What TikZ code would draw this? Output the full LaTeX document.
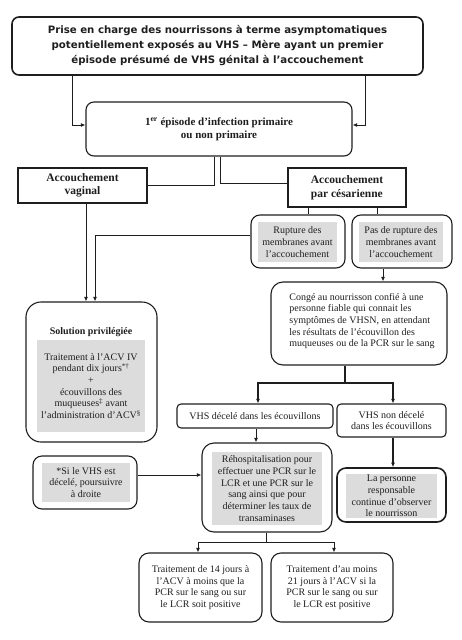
\documentclass[tikz,border=0pt]{standalone}
\usepackage{fontspec}
\setmainfont{Liberation Serif}
\newfontfamily\titlefont{DejaVu Sans}
\usetikzlibrary{arrows.meta,calc}
\definecolor{lg}{HTML}{DCDCDC}
\definecolor{ink}{HTML}{1E1E1E}
\tikzset{
  box/.style={draw=ink, line width=1.1pt, rounded corners=#1, inner sep=0pt},
  box/.default=9pt,
  greybox/.style={fill=lg, inner sep=0pt, align=center, font=\fontsize{10}{11.7}\selectfont},
  plain/.style={inner sep=0pt, align=center, font=\fontsize{10}{11.7}\selectfont},
  conn/.style={draw=ink, line width=0.9pt},
  arr/.style={conn, -{Latex[length=4.5pt,width=4pt]}},
}
\begin{document}
\begin{tikzpicture}[x=1pt,y=-1pt, text=ink]
\useasboundingbox (0,0) rectangle (461,640);
% boxes
\node[box=7pt, line width=1.6pt, minimum width=411pt, minimum height=58pt,
      align=center, font=\titlefont\bfseries\fontsize{10.2}{15}\selectfont] (top) at (217.5,46)
  {Prise en charge des nourrissons à terme asymptomatiques\\potentiellement exposés au VHS – Mère ayant un premier\\épisode présumé de VHS génital à l’accouchement};
\node[box=8pt, minimum width=266pt, minimum height=54pt, align=center,
      font=\bfseries\fontsize{11}{13}\selectfont] (ep) at (219,129)
  {1\textsuperscript{er} épisode d’infection primaire\\ou non primaire};
\node[box=0pt, minimum width=129pt, minimum height=35pt, align=center,
      font=\bfseries\fontsize{11.5}{13.5}\selectfont] (vag) at (82.5,185.5)
  {Accouchement\\vaginal};
\node[box=0pt, line width=1.6pt, minimum width=118pt, minimum height=39pt, align=left,
      font=\bfseries\fontsize{11.5}{14}\selectfont] (ces) at (347,187.5)
  {Accouchement\\par césarienne};
% rupture
\node[box=9pt, minimum width=94pt, minimum height=53pt] (rup) at (298,241.5) {};
\node[greybox, minimum width=79pt, minimum height=40pt] (rupt) at (297.5,242)
  {Rupture des\\membranes avant\\l’accouchement};
\node[box=9pt, minimum width=100pt, minimum height=53pt] (pas) at (402,241.5) {};
\node[greybox, minimum width=84pt, minimum height=40pt] (past) at (401,242)
  {Pas de rupture des\\membranes avant\\l’accouchement};
% conge
\node[box=12pt, minimum width=176pt, minimum height=83pt] (conge) at (359,323.5) {};
\node[plain, align=left] (conget) at (362,321)
  {Congé au nourrisson confié à une\\personne fiable qui connait les\\symptômes de VHSN, en attendant\\les résultats de l’écouvillon des\\muqueuses ou de la PCR sur le sang};
% solution
\node[box=15pt, minimum width=131pt, minimum height=140pt] (sol) at (91.5,372) {};
\node[plain, font=\bfseries\fontsize{10}{12}\selectfont] (solt) at (91,332) {Solution privilégiée};
\node[greybox, minimum width=108pt, minimum height=92pt] (solg) at (91,386)
  {Traitement à l’ACV IV\\pendant dix jours\textsuperscript{*†}\\+\\écouvillons des\\muqueuses\textsuperscript{‡} avant\\l’administration d’ACV\textsuperscript{§}};
% VHS results
\node[box=4pt, minimum width=156pt, minimum height=24pt, plain] (dec) at (255,416)
  {VHS décelé dans les écouvillons};
\node[box=4pt, minimum width=109pt, minimum height=33pt, plain] (nondec) at (391.5,420.5)
  {VHS non décelé\\dans les écouvillons};
% rehosp
\node[box=12pt, minimum width=130pt, minimum height=89pt] (reh) at (267,487.5) {};
\node[greybox, minimum width=110pt, minimum height=73pt] (reht) at (267,488.5)
  {Réhospitalisation pour\\effectuer une PCR sur le\\LCR et une PCR sur le\\sang ainsi que pour\\déterminer les taux de\\transaminases};
% si
\node[box=9pt, minimum width=104pt, minimum height=53pt] (si) at (85,482.5) {};
\node[greybox, minimum width=88pt, minimum height=39pt] (sit) at (86,482.5)
  {*Si le VHS est\\décelé, poursuivre\\à droite};
% personne
\node[box=9pt, line width=1.6pt, minimum width=109pt, minimum height=54pt] (pers) at (391.5,495) {};
\node[greybox, minimum width=91pt, minimum height=44pt] (perst) at (391.5,496)
  {La personne\\responsable\\continue d’observer\\le nourrisson};
% treatments
\node[box=10pt, minimum width=123pt, minimum height=69pt, plain] (t14) at (200.5,587.5)
  {Traitement de 14 jours à\\l’ACV à moins que la\\PCR sur le sang ou sur\\le LCR soit positive};
\node[box=10pt, minimum width=122pt, minimum height=69pt, plain] (t21) at (332,587.5)
  {Traitement d’au moins\\21 jours à l’ACV si la\\PCR sur le sang ou sur\\le LCR est positive};
% connectors
\coordinate (xl) at (72,0);
\coordinate (xr) at (365,0);
\draw[arr] (top.south -| xl) |- ([yshift=4pt]ep.west);
\draw[arr] (top.south -| xr) |- ([yshift=4pt]ep.east);
\coordinate (xa) at (214,0);
\coordinate (xb) at (220,0);
\draw[conn] (ep.south -| xa) |- (vag.east);
\draw[conn] (ep.south -| xb) |- ([yshift=4.5pt]ces.west);
\coordinate (xc) at (308,0);
\coordinate (xd) at (377,0);
\draw[conn] (ces.south -| xc) -- (rup.north -| xc);
\draw[conn] (ces.south -| xd) -- (pas.north -| xd);
\coordinate (xe) at (95,0);
\coordinate (xf) at (86,0);
\draw[arr] ([yshift=6.5pt]rup.west) -| (sol.north -| xe);
\draw[arr] (vag.south -| xf) -- (sol.north -| xf);
\coordinate (xg) at (383,0);
\draw[arr] (pas.south -| xg) -- (conge.north -| xg);
\coordinate (j1) at (345,383);
\draw[conn, line width=1.3pt] (conge.south -| j1) -- (j1);
\draw[arr, line width=1.3pt] (j1) -| ([xshift=3pt]dec.north);
\draw[arr, line width=1.3pt] (j1) -| ([xshift=1.5pt]nondec.north);
\coordinate (xh) at (256,0);
\draw[arr] (dec.south -| xh) -- (reh.north -| xh);
\draw[arr] ([yshift=7.5pt]si.east) -- ([yshift=7.5pt]si.east -| reh.west);
\coordinate (xi) at (393,0);
\draw[arr, line width=1.3pt] (nondec.south -| xi) -- (pers.north -| xi);
\coordinate (j2) at (266,542);
\draw[conn] (reh.south -| j2) -- (j2);
\draw[arr] (j2) -| ([xshift=-2.5pt]t14.north);
\draw[arr] (j2) -| ([xshift=2pt]t21.north);
\end{tikzpicture}
\end{document}
